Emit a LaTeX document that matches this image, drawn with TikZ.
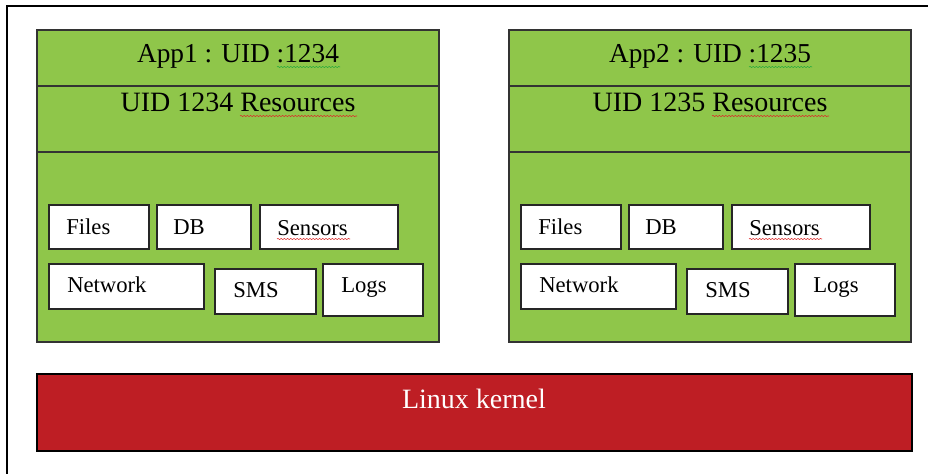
\documentclass[tikz,border=0pt]{standalone}
\usepackage{fontspec}
\setmainfont{Liberation Serif}
\usetikzlibrary{positioning}
\usetikzlibrary{decorations.pathmorphing}
\definecolor{appgreen}{RGB}{143,198,74}
\definecolor{kernred}{RGB}{190,30,36}
\definecolor{spellred}{RGB}{220,40,40}
\definecolor{spellgreen}{RGB}{40,170,60}
\tikzset{
  appbox/.style={draw=black!80, fill=appgreen, line width=0.9pt},
  resbox/.style={draw=black!85, fill=white, line width=0.9pt},
  kernbox/.style={draw=black, fill=kernred, line width=0.9pt},
  titletext/.style={anchor=base, inner sep=0pt, font=\fontsize{20.5}{23}\selectfont},
  restext/.style={anchor=base, inner sep=0pt, font=\fontsize{21}{24}\selectfont},
  reslabel/.style={anchor=base west, inner sep=0pt, font=\fontsize{17}{20}\selectfont},
  spell/.style={decorate, decoration={snake, amplitude=0.45pt, segment length=2.4pt}, line width=0.4pt}
}
% #1 name, #2 upper left, #3 lower right, #4 text position, #5 text
\newcommand{\resource}[5]{%
  \draw[resbox] (#2) rectangle (#3);
  \node[reslabel] (#1) at (#4) {#5};
}

\begin{document}
\begin{tikzpicture}[x=0.75pt,y=-0.75pt]
	\useasboundingbox (0,0) rectangle (928,474);
	% frame
	\draw[line width=1.1pt] (7,474) -- (7,6) -- (928,6);
	% the two apps
	\foreach \i/\dx/\uid in {1/0/1234, 2/472/1235}{
	\begin{scope}[shift={(\dx,0)}]
		\draw[appbox] (37,30) rectangle (439,342);
		\draw[black!80, line width=0.9pt] (37,86) -- (439,86);
		\draw[black!80, line width=0.9pt] (37,152) -- (439,152);
		\node[titletext] (app\i) at (238,63) {App\i{} : UID :\uid};
		\node[restext] (uid\i) at (238,112) {UID \uid{} Resources};
		\draw[spell, spellgreen] (277,67) -- (340,67);
		\draw[spell, spellred] (240,116) -- (357,116);
		\resource{files\i}{49,205}{149,249}{66,234}{Files}
		\resource{db\i}{157,205}{251,249}{173,234}{DB}
		\resource{sensors\i}{260,205}{398,249}{277,235}{Sensors}
		\draw[spell, spellred] (277,239) -- (350,239);
		\resource{network\i}{49,264}{204,309}{67,292}{Network}
		\resource{sms\i}{215,269}{316,314}{233,297}{SMS}
		\resource{logs\i}{323,264}{423,316}{341,292}{Logs}
	\end{scope}
	}
	% kernel
	\draw[kernbox] (37,374) rectangle (912,451);
	\node[restext, text=white] (kernel) at (474,408) {Linux kernel};
\end{tikzpicture}
\end{document}
